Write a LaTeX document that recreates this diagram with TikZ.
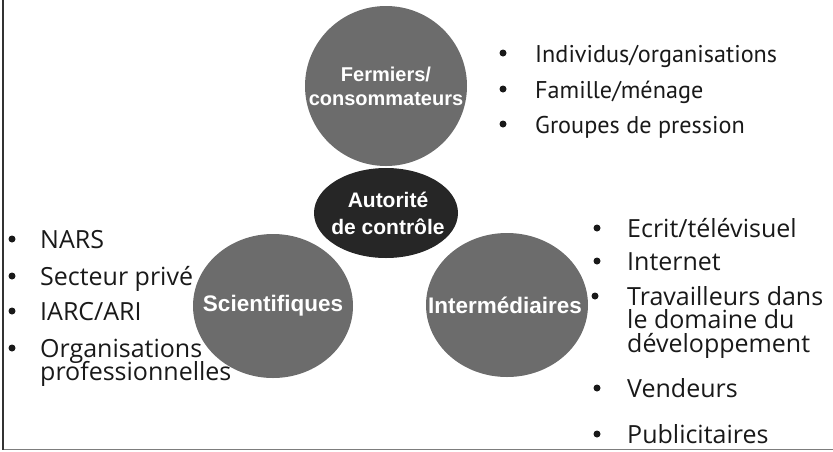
\documentclass[tikz,border=0pt]{standalone}
\usepackage{fontspec}
\setmainfont{Liberation Sans}
\newfontfamily\listfont{Open Sans}
\newfontfamily\topfont{PT Sans}
\usetikzlibrary{shapes.geometric}
\definecolor{discgray}{RGB}{108,108,108}
\definecolor{hubdark}{RGB}{38,38,38}
\definecolor{framegray}{RGB}{125,125,125}
\begin{document}
\begin{tikzpicture}
[x=1pt,y=-1pt,
 disc/.style={ellipse,fill=discgray,inner sep=0pt,minimum width=160pt,minimum height=144pt},
 hub/.style={ellipse,fill=hubdark,inner sep=0pt,minimum width=144pt,minimum height=90pt},
 disctext/.style={inner sep=0pt,text=white,align=center,font=\bfseries\fontsize{22.5}{26}\selectfont},
 item/.style={anchor=base west,inner sep=0pt,text=black!90,font=\listfont\fontsize{25}{25}\selectfont},
 dot/.style={circle,fill=black!90,inner sep=0pt,minimum size=7pt,yshift=9pt},
 topitem/.style={item,font=\topfont\fontsize{24.2}{24.2}\selectfont}]
\useasboundingbox (0,0) rectangle (833,451);
% cadre
\draw[framegray,line width=1.5pt] (2,449.5) -- (833,449.5);
\draw[black!80,line width=2pt] (2.5,0) -- (2.5,450.25);
% cercles
\node[disc,minimum width=162pt,minimum height=160pt] (fermiers) at (386,86) {};
\node[disc] (scient) at (273,306) {};
\node[disc,minimum width=162pt] (interm) at (507,305) {};
\node[hub] (autorite) at (386,213) {};
\node[disctext,font=\bfseries\fontsize{20}{24}\selectfont] (fermiers-txt) at (fermiers) {Fermiers/\\consommateurs};
\node[disctext] (scient-txt) at (scient) {Scientifiques};
\node[disctext] (interm-txt) at ([xshift=-2pt]interm) {Intermédiaires};
\node[disctext,font=\bfseries\fontsize{21}{27}\selectfont] (autorite-txt) at ([xshift=2pt]autorite) {Autorité\\de contrôle};
% fermiers/consommateurs
\node[dot] (f-b1) at (503,62) {};
\node[topitem] (f-1) at (535,62) {Individus/organisations};
\node[dot] (f-b2) at (503,98) {};
\node[topitem] (f-2) at (535,98) {Famille/ménage};
\node[dot] (f-b3) at (503,133) {};
\node[topitem] (f-3) at (535,133) {Groupes de pression};
% scientifiques
\node[dot] (s-b1) at (12,248) {};
\node[item] (s-1) at (40,248) {NARS};
\node[dot] (s-b2) at (12,285) {};
\node[item] (s-2) at (40,285) {Secteur privé};
\node[dot] (s-b3) at (12,320) {};
\node[item] (s-3) at (40,320) {IARC/ARI};
\node[dot] (s-b4) at (12,357) {};
\node[item] (s-4) at (40,357) {Organisations};
\node[item] (s-4b) at (40,380) {professionnelles};
% intermediaires
\node[dot] (i-b1) at (597,237) {};
\node[item] (i-1) at (627,237) {Ecrit/télévisuel};
\node[dot] (i-b2) at (597,270) {};
\node[item] (i-2) at (627,270) {Internet};
\node[dot] (i-b3) at (595,305) {};
\node[item] (i-3) at (627,305) {Travailleurs dans};
\node[item] (i-3b) at (627,328) {le domaine du};
\node[item] (i-3c) at (627,352) {développement};
\node[dot] (i-b4) at (597,397) {};
\node[item] (i-4) at (627,397) {Vendeurs};
\node[dot] (i-b5) at (597,443) {};
\node[item] (i-5) at (627,443) {Publicitaires};
\end{tikzpicture}
\end{document}
